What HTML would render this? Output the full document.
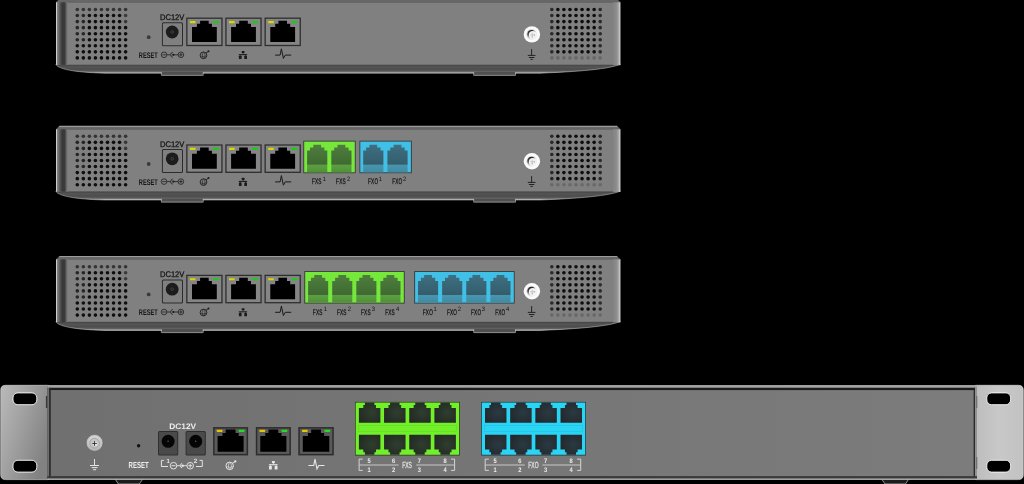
<!DOCTYPE html>
<html><head><meta charset="utf-8"><title>Gateways</title>
<style>html,body{margin:0;padding:0;background:#000;width:1024px;height:484px;overflow:hidden}
svg{display:block;will-change:transform} text{font-family:"Liberation Sans", sans-serif;text-rendering:geometricPrecision}</style></head>
<body><svg width="1024" height="484" viewBox="0 0 1024 484">
<defs><linearGradient id="lside" x1="0" x2="1" y1="0" y2="0">
<stop offset="0" stop-color="#e0e0e0"/><stop offset="0.06" stop-color="#c4c4c4"/>
<stop offset="0.12" stop-color="#808080"/><stop offset="0.25" stop-color="#686868"/>
<stop offset="0.42" stop-color="#464646"/><stop offset="0.55" stop-color="#383838"/>
<stop offset="0.72" stop-color="#3a3a3a"/><stop offset="0.85" stop-color="#606060"/>
<stop offset="0.95" stop-color="#7a7a7a"/><stop offset="1" stop-color="#808080"/></linearGradient><linearGradient id="rside" x1="0" x2="1" y1="0" y2="0">
<stop offset="0" stop-color="#838383"/><stop offset="0.45" stop-color="#8c8c8c"/>
<stop offset="0.75" stop-color="#a8a8a8"/><stop offset="0.92" stop-color="#d0d0d0"/>
<stop offset="1" stop-color="#9a9a9a"/></linearGradient><linearGradient id="bband" x1="0" x2="0" y1="0" y2="1">
<stop offset="0" stop-color="#444"/><stop offset="0.2" stop-color="#4c4c4c"/>
<stop offset="0.35" stop-color="#555"/><stop offset="0.55" stop-color="#4c4c4c"/>
<stop offset="0.78" stop-color="#5a5a5a"/><stop offset="0.9" stop-color="#8a8a8a"/>
<stop offset="1" stop-color="#c0c0c0"/></linearGradient><linearGradient id="rface" x1="0" x2="1" y1="0" y2="0">
<stop offset="0" stop-color="#707070"/><stop offset="1" stop-color="#7c7c7c"/></linearGradient><radialGradient id="rgj" cx="0.6" cy="0.5" r="0.7">
<stop offset="0" stop-color="#2e3e2e"/><stop offset="1" stop-color="#232823"/></radialGradient><radialGradient id="rbj" cx="0.6" cy="0.5" r="0.7">
<stop offset="0" stop-color="#2a3a42"/><stop offset="1" stop-color="#22272b"/></radialGradient><radialGradient id="sscrew" cx="0.7" cy="0.6" r="0.8">
<stop offset="0" stop-color="#fafafa"/><stop offset="0.5" stop-color="#eeeeee"/>
<stop offset="0.85" stop-color="#c8c8c8"/><stop offset="1" stop-color="#d8d8d8"/></radialGradient><radialGradient id="rscrew" cx="0.5" cy="0.35" r="0.65">
<stop offset="0" stop-color="#e0e0e0"/><stop offset="0.7" stop-color="#c4c4c4"/>
<stop offset="1" stop-color="#a4a4a4"/></radialGradient><linearGradient id="topb" x1="0" x2="0" y1="0" y2="1">
<stop offset="0" stop-color="#a0a0a0"/><stop offset="0.28" stop-color="#989898"/>
<stop offset="0.4" stop-color="#686868"/><stop offset="0.85" stop-color="#636363"/>
<stop offset="1" stop-color="#787878"/></linearGradient><linearGradient id="rtop" x1="0" x2="0" y1="0" y2="1">
<stop offset="0" stop-color="#c0c0c0"/><stop offset="0.4" stop-color="#a8a8a8"/>
<stop offset="1" stop-color="#8a8a8a"/></linearGradient><linearGradient id="cres" x1="0.2" x2="0.5" y1="0.1" y2="1">
<stop offset="0" stop-color="#202020"/><stop offset="0.45" stop-color="#555"/>
<stop offset="1" stop-color="#e0e0e0"/></linearGradient><linearGradient id="foot" x1="0" x2="0" y1="0" y2="1">
<stop offset="0" stop-color="#6a6a6a"/><stop offset="1" stop-color="#9a9a9a"/></linearGradient><radialGradient id="screw" cx="0.45" cy="0.45" r="0.6">
<stop offset="0" stop-color="#f0f0f0"/><stop offset="0.6" stop-color="#c8c8c8"/>
<stop offset="1" stop-color="#8a8a8a"/></radialGradient><linearGradient id="earL" x1="0" x2="1" y1="0" y2="0.6">
<stop offset="0" stop-color="#bababa"/><stop offset="0.45" stop-color="#a2a2a2"/>
<stop offset="1" stop-color="#828282"/></linearGradient><linearGradient id="earR" x1="0" x2="1" y1="0" y2="0">
<stop offset="0" stop-color="#bdbdbd"/><stop offset="0.5" stop-color="#c8c8c8"/>
<stop offset="1" stop-color="#c2c2c2"/></linearGradient><linearGradient id="gjack" x1="0" x2="0" y1="0" y2="1">
<stop offset="0" stop-color="#4e7e3e"/><stop offset="0.71" stop-color="#3f6a31"/>
<stop offset="0.73" stop-color="#5e9e43"/><stop offset="1" stop-color="#509038"/></linearGradient><linearGradient id="bjack" x1="0" x2="0" y1="0" y2="1">
<stop offset="0" stop-color="#3e6f80"/><stop offset="0.71" stop-color="#335d6d"/>
<stop offset="0.73" stop-color="#4a95ae"/><stop offset="1" stop-color="#408aa3"/></linearGradient></defs>
<rect width="1024" height="484" fill="#000"/>
<path d="M56,64.0 L620.5,64.0 L620.5,64.2 C612,68.0 590,71.2 540,73.2 L105,73.2 C72,72.4 59,68.7 56,64.8 Z" fill="url(#bband)" stroke="#d0d0d0" stroke-width="0.5"/><rect x="161.7" y="71.8" width="41.2" height="3.4" rx="1" fill="#505050"/><path d="M161.4,72.8 L161.4,75.4 L203.2,75.4 L203.2,72.8" fill="none" stroke="#d8d8d8" stroke-width="0.6"/><rect x="474.0" y="71.8" width="41.2" height="3.4" rx="1" fill="#505050"/><path d="M473.7,72.8 L473.7,75.4 L515.5,75.4 L515.5,72.8" fill="none" stroke="#d8d8d8" stroke-width="0.6"/><rect x="56.3" y="2.3" width="564" height="62.0" fill="#808080"/><path d="M56,2.3 L59.6,-1.2 L616.9,-1.2 L620.5,2.3 L620.5,2.8 L56,2.8 Z" fill="url(#topb)"/><rect x="56" y="2.3" width="12" height="62.6" fill="url(#lside)"/><rect x="613" y="2.3" width="7.5" height="62.9" fill="url(#rside)"/><circle cx="77.30" cy="9.50" r="1.8" fill="#333"/><circle cx="83.34" cy="9.50" r="1.8" fill="#333"/><circle cx="89.38" cy="9.50" r="1.8" fill="#333"/><circle cx="95.42" cy="9.50" r="1.8" fill="#333"/><circle cx="101.46" cy="9.50" r="1.8" fill="#333"/><circle cx="107.50" cy="9.50" r="1.8" fill="#333"/><circle cx="113.54" cy="9.50" r="1.8" fill="#333"/><circle cx="119.58" cy="9.50" r="1.8" fill="#333"/><circle cx="125.62" cy="9.50" r="1.8" fill="#333"/><circle cx="77.30" cy="15.55" r="1.8" fill="#262626"/><circle cx="83.34" cy="15.55" r="1.8" fill="#262626"/><circle cx="89.38" cy="15.55" r="1.8" fill="#0e0e0e"/><circle cx="95.42" cy="15.55" r="1.8" fill="#0e0e0e"/><circle cx="101.46" cy="15.55" r="1.8" fill="#0e0e0e"/><circle cx="107.50" cy="15.55" r="1.8" fill="#0e0e0e"/><circle cx="113.54" cy="15.55" r="1.8" fill="#0e0e0e"/><circle cx="119.58" cy="15.55" r="1.8" fill="#0e0e0e"/><circle cx="125.62" cy="15.55" r="1.8" fill="#3a3a3a"/><circle cx="77.30" cy="21.60" r="1.8" fill="#262626"/><circle cx="83.34" cy="21.60" r="1.8" fill="#262626"/><circle cx="89.38" cy="21.60" r="1.8" fill="#0e0e0e"/><circle cx="95.42" cy="21.60" r="1.8" fill="#0e0e0e"/><circle cx="101.46" cy="21.60" r="1.8" fill="#0e0e0e"/><circle cx="107.50" cy="21.60" r="1.8" fill="#0e0e0e"/><circle cx="113.54" cy="21.60" r="1.8" fill="#0e0e0e"/><circle cx="119.58" cy="21.60" r="1.8" fill="#0e0e0e"/><circle cx="125.62" cy="21.60" r="1.8" fill="#3a3a3a"/><circle cx="77.30" cy="27.65" r="1.8" fill="#262626"/><circle cx="83.34" cy="27.65" r="1.8" fill="#262626"/><circle cx="89.38" cy="27.65" r="1.8" fill="#0e0e0e"/><circle cx="95.42" cy="27.65" r="1.8" fill="#0e0e0e"/><circle cx="101.46" cy="27.65" r="1.8" fill="#0e0e0e"/><circle cx="107.50" cy="27.65" r="1.8" fill="#0e0e0e"/><circle cx="113.54" cy="27.65" r="1.8" fill="#0e0e0e"/><circle cx="119.58" cy="27.65" r="1.8" fill="#0e0e0e"/><circle cx="125.62" cy="27.65" r="1.8" fill="#0e0e0e"/><circle cx="77.30" cy="33.70" r="1.8" fill="#262626"/><circle cx="83.34" cy="33.70" r="1.8" fill="#262626"/><circle cx="89.38" cy="33.70" r="1.8" fill="#0e0e0e"/><circle cx="95.42" cy="33.70" r="1.8" fill="#0e0e0e"/><circle cx="101.46" cy="33.70" r="1.8" fill="#0e0e0e"/><circle cx="107.50" cy="33.70" r="1.8" fill="#0e0e0e"/><circle cx="113.54" cy="33.70" r="1.8" fill="#0e0e0e"/><circle cx="119.58" cy="33.70" r="1.8" fill="#0e0e0e"/><circle cx="125.62" cy="33.70" r="1.8" fill="#0e0e0e"/><circle cx="77.30" cy="39.75" r="1.8" fill="#262626"/><circle cx="83.34" cy="39.75" r="1.8" fill="#262626"/><circle cx="89.38" cy="39.75" r="1.8" fill="#0e0e0e"/><circle cx="95.42" cy="39.75" r="1.8" fill="#0e0e0e"/><circle cx="101.46" cy="39.75" r="1.8" fill="#0e0e0e"/><circle cx="107.50" cy="39.75" r="1.8" fill="#0e0e0e"/><circle cx="113.54" cy="39.75" r="1.8" fill="#0e0e0e"/><circle cx="119.58" cy="39.75" r="1.8" fill="#0e0e0e"/><circle cx="125.62" cy="39.75" r="1.8" fill="#0e0e0e"/><circle cx="77.30" cy="45.80" r="1.8" fill="#0e0e0e"/><circle cx="83.34" cy="45.80" r="1.8" fill="#0e0e0e"/><circle cx="89.38" cy="45.80" r="1.8" fill="#0e0e0e"/><circle cx="95.42" cy="45.80" r="1.8" fill="#0e0e0e"/><circle cx="101.46" cy="45.80" r="1.8" fill="#0e0e0e"/><circle cx="107.50" cy="45.80" r="1.8" fill="#0e0e0e"/><circle cx="113.54" cy="45.80" r="1.8" fill="#0e0e0e"/><circle cx="119.58" cy="45.80" r="1.8" fill="#0e0e0e"/><circle cx="125.62" cy="45.80" r="1.8" fill="#0e0e0e"/><circle cx="77.30" cy="51.85" r="1.8" fill="#0e0e0e"/><circle cx="83.34" cy="51.85" r="1.8" fill="#0e0e0e"/><circle cx="89.38" cy="51.85" r="1.8" fill="#0e0e0e"/><circle cx="95.42" cy="51.85" r="1.8" fill="#0e0e0e"/><circle cx="101.46" cy="51.85" r="1.8" fill="#0e0e0e"/><circle cx="107.50" cy="51.85" r="1.8" fill="#0e0e0e"/><circle cx="113.54" cy="51.85" r="1.8" fill="#0e0e0e"/><circle cx="119.58" cy="51.85" r="1.8" fill="#0e0e0e"/><circle cx="125.62" cy="51.85" r="1.8" fill="#0e0e0e"/><circle cx="77.30" cy="57.90" r="1.8" fill="#0e0e0e"/><circle cx="83.34" cy="57.90" r="1.8" fill="#0e0e0e"/><circle cx="89.38" cy="57.90" r="1.8" fill="#0e0e0e"/><circle cx="95.42" cy="57.90" r="1.8" fill="#0e0e0e"/><circle cx="101.46" cy="57.90" r="1.8" fill="#0e0e0e"/><circle cx="107.50" cy="57.90" r="1.8" fill="#0e0e0e"/><circle cx="113.54" cy="57.90" r="1.8" fill="#0e0e0e"/><circle cx="119.58" cy="57.90" r="1.8" fill="#0e0e0e"/><circle cx="125.62" cy="57.90" r="1.8" fill="#0e0e0e"/><circle cx="551.80" cy="9.50" r="1.8" fill="#2a2a2a"/><circle cx="557.85" cy="9.50" r="1.8" fill="#0e0e0e"/><circle cx="563.90" cy="9.50" r="1.8" fill="#0e0e0e"/><circle cx="569.95" cy="9.50" r="1.8" fill="#0e0e0e"/><circle cx="576.00" cy="9.50" r="1.8" fill="#0e0e0e"/><circle cx="582.05" cy="9.50" r="1.8" fill="#0e0e0e"/><circle cx="588.10" cy="9.50" r="1.8" fill="#0e0e0e"/><circle cx="594.15" cy="9.50" r="1.8" fill="#0e0e0e"/><circle cx="600.20" cy="9.50" r="1.8" fill="#2a2a2a"/><circle cx="551.80" cy="15.55" r="1.8" fill="#2a2a2a"/><circle cx="557.85" cy="15.55" r="1.8" fill="#0e0e0e"/><circle cx="563.90" cy="15.55" r="1.8" fill="#0e0e0e"/><circle cx="569.95" cy="15.55" r="1.8" fill="#0e0e0e"/><circle cx="576.00" cy="15.55" r="1.8" fill="#0e0e0e"/><circle cx="582.05" cy="15.55" r="1.8" fill="#0e0e0e"/><circle cx="588.10" cy="15.55" r="1.8" fill="#0e0e0e"/><circle cx="594.15" cy="15.55" r="1.8" fill="#0e0e0e"/><circle cx="600.20" cy="15.55" r="1.8" fill="#2a2a2a"/><circle cx="551.80" cy="21.60" r="1.8" fill="#2a2a2a"/><circle cx="557.85" cy="21.60" r="1.8" fill="#0e0e0e"/><circle cx="563.90" cy="21.60" r="1.8" fill="#0e0e0e"/><circle cx="569.95" cy="21.60" r="1.8" fill="#0e0e0e"/><circle cx="576.00" cy="21.60" r="1.8" fill="#0e0e0e"/><circle cx="582.05" cy="21.60" r="1.8" fill="#0e0e0e"/><circle cx="588.10" cy="21.60" r="1.8" fill="#0e0e0e"/><circle cx="594.15" cy="21.60" r="1.8" fill="#0e0e0e"/><circle cx="600.20" cy="21.60" r="1.8" fill="#2a2a2a"/><circle cx="551.80" cy="27.65" r="1.8" fill="#2a2a2a"/><circle cx="557.85" cy="27.65" r="1.8" fill="#0e0e0e"/><circle cx="563.90" cy="27.65" r="1.8" fill="#0e0e0e"/><circle cx="569.95" cy="27.65" r="1.8" fill="#0e0e0e"/><circle cx="576.00" cy="27.65" r="1.8" fill="#0e0e0e"/><circle cx="582.05" cy="27.65" r="1.8" fill="#0e0e0e"/><circle cx="588.10" cy="27.65" r="1.8" fill="#0e0e0e"/><circle cx="594.15" cy="27.65" r="1.8" fill="#0e0e0e"/><circle cx="600.20" cy="27.65" r="1.8" fill="#2a2a2a"/><circle cx="551.80" cy="33.70" r="1.8" fill="#2a2a2a"/><circle cx="557.85" cy="33.70" r="1.8" fill="#0e0e0e"/><circle cx="563.90" cy="33.70" r="1.8" fill="#0e0e0e"/><circle cx="569.95" cy="33.70" r="1.8" fill="#0e0e0e"/><circle cx="576.00" cy="33.70" r="1.8" fill="#0e0e0e"/><circle cx="582.05" cy="33.70" r="1.8" fill="#0e0e0e"/><circle cx="588.10" cy="33.70" r="1.8" fill="#0e0e0e"/><circle cx="594.15" cy="33.70" r="1.8" fill="#0e0e0e"/><circle cx="600.20" cy="33.70" r="1.8" fill="#2a2a2a"/><circle cx="551.80" cy="39.75" r="1.8" fill="#2a2a2a"/><circle cx="557.85" cy="39.75" r="1.8" fill="#0e0e0e"/><circle cx="563.90" cy="39.75" r="1.8" fill="#0e0e0e"/><circle cx="569.95" cy="39.75" r="1.8" fill="#0e0e0e"/><circle cx="576.00" cy="39.75" r="1.8" fill="#0e0e0e"/><circle cx="582.05" cy="39.75" r="1.8" fill="#0e0e0e"/><circle cx="588.10" cy="39.75" r="1.8" fill="#0e0e0e"/><circle cx="594.15" cy="39.75" r="1.8" fill="#0e0e0e"/><circle cx="600.20" cy="39.75" r="1.8" fill="#2a2a2a"/><circle cx="551.80" cy="45.80" r="1.8" fill="#2a2a2a"/><circle cx="557.85" cy="45.80" r="1.8" fill="#0e0e0e"/><circle cx="563.90" cy="45.80" r="1.8" fill="#0e0e0e"/><circle cx="569.95" cy="45.80" r="1.8" fill="#0e0e0e"/><circle cx="576.00" cy="45.80" r="1.8" fill="#0e0e0e"/><circle cx="582.05" cy="45.80" r="1.8" fill="#0e0e0e"/><circle cx="588.10" cy="45.80" r="1.8" fill="#0e0e0e"/><circle cx="594.15" cy="45.80" r="1.8" fill="#0e0e0e"/><circle cx="600.20" cy="45.80" r="1.8" fill="#2a2a2a"/><circle cx="551.80" cy="51.85" r="1.8" fill="#2a2a2a"/><circle cx="557.85" cy="51.85" r="1.8" fill="#0e0e0e"/><circle cx="563.90" cy="51.85" r="1.8" fill="#0e0e0e"/><circle cx="569.95" cy="51.85" r="1.8" fill="#0e0e0e"/><circle cx="576.00" cy="51.85" r="1.8" fill="#0e0e0e"/><circle cx="582.05" cy="51.85" r="1.8" fill="#0e0e0e"/><circle cx="588.10" cy="51.85" r="1.8" fill="#0e0e0e"/><circle cx="594.15" cy="51.85" r="1.8" fill="#0e0e0e"/><circle cx="600.20" cy="51.85" r="1.8" fill="#2a2a2a"/><circle cx="551.80" cy="57.90" r="1.8" fill="#686868"/><circle cx="557.85" cy="57.90" r="1.8" fill="#686868"/><circle cx="563.90" cy="57.90" r="1.8" fill="#686868"/><circle cx="569.95" cy="57.90" r="1.8" fill="#686868"/><circle cx="576.00" cy="57.90" r="1.8" fill="#686868"/><circle cx="582.05" cy="57.90" r="1.8" fill="#686868"/><circle cx="588.10" cy="57.90" r="1.8" fill="#686868"/><circle cx="594.15" cy="57.90" r="1.8" fill="#686868"/><circle cx="600.20" cy="57.90" r="1.8" fill="#686868"/><circle cx="531.9" cy="34.4" r="8.2" fill="#fbfbfb"/><circle cx="531.9" cy="34.4" r="5.4" fill="url(#sscrew)"/><circle cx="531.6" cy="34.2" r="4.3" fill="url(#cres)"/><circle cx="532.8" cy="35.1" r="4.0" fill="#f2f2f2"/><path d="M532.2,32.8 L532.2,37.0 M530.2,34.9 L534.4,34.9" stroke="#c4c4c4" stroke-width="0.9"/><circle cx="534.3" cy="34.9" r="0.5" fill="#777"/><circle cx="532.2" cy="36.9" r="0.5" fill="#888"/><g stroke="#1e1e1e" stroke-width="0.95" fill="none"><line x1="531.6" y1="49.1" x2="531.6" y2="55.4"/><line x1="527.8" y1="55.4" x2="535.5" y2="55.4"/><line x1="528.9" y1="57.5" x2="534.4" y2="57.5"/><line x1="530.5" y1="59.4" x2="532.8" y2="59.4"/></g><circle cx="148.7" cy="37.2" r="1.9" fill="#3a3a3a"/><text x="0" y="0" font-size="8.1" font-weight="bold" fill="#141414" transform="translate(138.8,57.7) scale(0.70,1)">RESET</text><rect x="161.9" y="22.3" width="21.1" height="24" rx="1.5" fill="#2c2c2c"/><rect x="162.9" y="23.3" width="19.1" height="22" rx="0.9" fill="#808080"/><circle cx="172.2" cy="32" r="6.4" fill="#1c1c1c"/><circle cx="172.2" cy="32" r="1.3" fill="none" stroke="#555" stroke-width="0.6"/><text x="0" y="0" font-size="8.1" fill="#141414" stroke="#141414" stroke-width="0.25" transform="translate(159.9,20.1) scale(0.94,1)">DC12V</text><g stroke="#1a1a1a" stroke-width="0.75" fill="none"><circle cx="164.05" cy="54.8" r="2.8"/><line x1="162.31" y1="54.8" x2="165.79" y2="54.8"/><line x1="166.85" y1="54.8" x2="170.64" y2="54.8"/><path d="M172.84,57.42 A2.66,2.66 0 0 1 172.84,52.18"/><line x1="173.3" y1="54.8" x2="178.1" y2="54.8"/><circle cx="180.9" cy="54.8" r="2.8"/><line x1="179.16" y1="54.8" x2="182.64" y2="54.8"/><line x1="180.9" y1="53.06" x2="180.9" y2="56.54"/></g><circle cx="173.3" cy="54.8" r="1.12" fill="#1a1a1a"/><rect x="186.2" y="17.55" width="36.4" height="28.6" fill="#2e2e2e"/><rect x="187.5" y="18.85" width="33.8" height="26.0" fill="#858585"/><polygon points="192.00,27.05 196.90,27.05 196.90,23.85 200.10,23.85 200.10,20.65 208.70,20.65 208.70,23.85 211.90,23.85 211.90,27.05 216.80,27.05 216.80,41.95 192.00,41.95" fill="#000"/><rect x="189.9" y="20.95" width="5.6" height="2.2" rx="0.4" fill="#d8d800"/><rect x="213.3" y="20.95" width="5.6" height="2.2" rx="0.4" fill="#10d010"/><rect x="225.3" y="17.55" width="36.4" height="28.6" fill="#2e2e2e"/><rect x="226.6" y="18.85" width="33.8" height="26.0" fill="#858585"/><polygon points="231.10,27.05 236.00,27.05 236.00,23.85 239.20,23.85 239.20,20.65 247.80,20.65 247.80,23.85 251.00,23.85 251.00,27.05 255.90,27.05 255.90,41.95 231.10,41.95" fill="#000"/><rect x="229.0" y="20.95" width="5.6" height="2.2" rx="0.4" fill="#d8d800"/><rect x="252.4" y="20.95" width="5.6" height="2.2" rx="0.4" fill="#10d010"/><rect x="264.5" y="17.55" width="36.4" height="28.6" fill="#2e2e2e"/><rect x="265.8" y="18.85" width="33.8" height="26.0" fill="#858585"/><polygon points="270.30,27.05 275.20,27.05 275.20,23.85 278.40,23.85 278.40,20.65 287.00,20.65 287.00,23.85 290.20,23.85 290.20,27.05 295.10,27.05 295.10,41.95 270.30,41.95" fill="#000"/><rect x="268.2" y="20.95" width="5.6" height="2.2" rx="0.4" fill="#d8d800"/><rect x="291.6" y="20.95" width="5.6" height="2.2" rx="0.4" fill="#10d010"/><g transform="translate(203.5,55.3) scale(1.0)"><g stroke="#1a1a1a" fill="none" stroke-width="0.85"><circle cx="0" cy="0" r="3.35"/><path d="M2.5,-2.3 L4.8,-3.8"/></g><g stroke="#1a1a1a" fill="none" stroke-width="0.55"><ellipse cx="0.2" cy="0.1" rx="1.3" ry="2.9"/><path d="M-2.9,0.6 Q0,2.2 2.9,0.6"/></g><circle cx="5.0" cy="-4.0" r="1" fill="#1a1a1a"/></g><g fill="#1a1a1a" transform="translate(243.1,54.5) scale(1.0)"><rect x="-1.4" y="-3.5" width="2.8" height="2.1" rx="0.5"/><rect x="-0.35" y="-1.6" width="0.7" height="1.4"/><rect x="-4.3" y="-0.4" width="8.3" height="1.05"/><rect x="-3.3" y="0.5" width="0.7" height="1.2"/><rect x="2.2" y="0.5" width="0.7" height="1.2"/><rect x="-4.2" y="1.3" width="2.7" height="3.3" rx="0.5"/><rect x="1.2" y="1.3" width="2.7" height="3.3" rx="0.5"/></g><polyline points="275.1,55.1 280.1,55.1 281.4,48.8 283.4,58.4 285.2,55.1 291.2,55.1" stroke="#1a1a1a" stroke-width="1.0" fill="none" stroke-linejoin="miter"/><path d="M56,190.8 L620.5,190.8 L620.5,191 C612,194.8 590,198 540,200 L105,200 C72,199.2 59,195.5 56,191.6 Z" fill="url(#bband)" stroke="#d0d0d0" stroke-width="0.5"/><rect x="161.7" y="198.6" width="41.2" height="3.4" rx="1" fill="#505050"/><path d="M161.4,199.6 L161.4,202.2 L203.2,202.2 L203.2,199.6" fill="none" stroke="#d8d8d8" stroke-width="0.6"/><rect x="474.0" y="198.6" width="41.2" height="3.4" rx="1" fill="#505050"/><path d="M473.7,199.6 L473.7,202.2 L515.5,202.2 L515.5,199.6" fill="none" stroke="#d8d8d8" stroke-width="0.6"/><rect x="56.3" y="129.3" width="564" height="61.8" fill="#808080"/><path d="M56,129.3 L59.6,125.8 L616.9,125.8 L620.5,129.3 L620.5,129.8 L56,129.8 Z" fill="url(#topb)"/><rect x="56" y="129.3" width="12" height="62.4" fill="url(#lside)"/><rect x="613" y="129.3" width="7.5" height="62.7" fill="url(#rside)"/><circle cx="77.30" cy="136.30" r="1.8" fill="#333"/><circle cx="83.34" cy="136.30" r="1.8" fill="#333"/><circle cx="89.38" cy="136.30" r="1.8" fill="#333"/><circle cx="95.42" cy="136.30" r="1.8" fill="#333"/><circle cx="101.46" cy="136.30" r="1.8" fill="#333"/><circle cx="107.50" cy="136.30" r="1.8" fill="#333"/><circle cx="113.54" cy="136.30" r="1.8" fill="#333"/><circle cx="119.58" cy="136.30" r="1.8" fill="#333"/><circle cx="125.62" cy="136.30" r="1.8" fill="#333"/><circle cx="77.30" cy="142.35" r="1.8" fill="#262626"/><circle cx="83.34" cy="142.35" r="1.8" fill="#262626"/><circle cx="89.38" cy="142.35" r="1.8" fill="#0e0e0e"/><circle cx="95.42" cy="142.35" r="1.8" fill="#0e0e0e"/><circle cx="101.46" cy="142.35" r="1.8" fill="#0e0e0e"/><circle cx="107.50" cy="142.35" r="1.8" fill="#0e0e0e"/><circle cx="113.54" cy="142.35" r="1.8" fill="#0e0e0e"/><circle cx="119.58" cy="142.35" r="1.8" fill="#0e0e0e"/><circle cx="125.62" cy="142.35" r="1.8" fill="#3a3a3a"/><circle cx="77.30" cy="148.40" r="1.8" fill="#262626"/><circle cx="83.34" cy="148.40" r="1.8" fill="#262626"/><circle cx="89.38" cy="148.40" r="1.8" fill="#0e0e0e"/><circle cx="95.42" cy="148.40" r="1.8" fill="#0e0e0e"/><circle cx="101.46" cy="148.40" r="1.8" fill="#0e0e0e"/><circle cx="107.50" cy="148.40" r="1.8" fill="#0e0e0e"/><circle cx="113.54" cy="148.40" r="1.8" fill="#0e0e0e"/><circle cx="119.58" cy="148.40" r="1.8" fill="#0e0e0e"/><circle cx="125.62" cy="148.40" r="1.8" fill="#3a3a3a"/><circle cx="77.30" cy="154.45" r="1.8" fill="#262626"/><circle cx="83.34" cy="154.45" r="1.8" fill="#262626"/><circle cx="89.38" cy="154.45" r="1.8" fill="#0e0e0e"/><circle cx="95.42" cy="154.45" r="1.8" fill="#0e0e0e"/><circle cx="101.46" cy="154.45" r="1.8" fill="#0e0e0e"/><circle cx="107.50" cy="154.45" r="1.8" fill="#0e0e0e"/><circle cx="113.54" cy="154.45" r="1.8" fill="#0e0e0e"/><circle cx="119.58" cy="154.45" r="1.8" fill="#0e0e0e"/><circle cx="125.62" cy="154.45" r="1.8" fill="#0e0e0e"/><circle cx="77.30" cy="160.50" r="1.8" fill="#262626"/><circle cx="83.34" cy="160.50" r="1.8" fill="#262626"/><circle cx="89.38" cy="160.50" r="1.8" fill="#0e0e0e"/><circle cx="95.42" cy="160.50" r="1.8" fill="#0e0e0e"/><circle cx="101.46" cy="160.50" r="1.8" fill="#0e0e0e"/><circle cx="107.50" cy="160.50" r="1.8" fill="#0e0e0e"/><circle cx="113.54" cy="160.50" r="1.8" fill="#0e0e0e"/><circle cx="119.58" cy="160.50" r="1.8" fill="#0e0e0e"/><circle cx="125.62" cy="160.50" r="1.8" fill="#0e0e0e"/><circle cx="77.30" cy="166.55" r="1.8" fill="#262626"/><circle cx="83.34" cy="166.55" r="1.8" fill="#262626"/><circle cx="89.38" cy="166.55" r="1.8" fill="#0e0e0e"/><circle cx="95.42" cy="166.55" r="1.8" fill="#0e0e0e"/><circle cx="101.46" cy="166.55" r="1.8" fill="#0e0e0e"/><circle cx="107.50" cy="166.55" r="1.8" fill="#0e0e0e"/><circle cx="113.54" cy="166.55" r="1.8" fill="#0e0e0e"/><circle cx="119.58" cy="166.55" r="1.8" fill="#0e0e0e"/><circle cx="125.62" cy="166.55" r="1.8" fill="#0e0e0e"/><circle cx="77.30" cy="172.60" r="1.8" fill="#0e0e0e"/><circle cx="83.34" cy="172.60" r="1.8" fill="#0e0e0e"/><circle cx="89.38" cy="172.60" r="1.8" fill="#0e0e0e"/><circle cx="95.42" cy="172.60" r="1.8" fill="#0e0e0e"/><circle cx="101.46" cy="172.60" r="1.8" fill="#0e0e0e"/><circle cx="107.50" cy="172.60" r="1.8" fill="#0e0e0e"/><circle cx="113.54" cy="172.60" r="1.8" fill="#0e0e0e"/><circle cx="119.58" cy="172.60" r="1.8" fill="#0e0e0e"/><circle cx="125.62" cy="172.60" r="1.8" fill="#0e0e0e"/><circle cx="77.30" cy="178.65" r="1.8" fill="#0e0e0e"/><circle cx="83.34" cy="178.65" r="1.8" fill="#0e0e0e"/><circle cx="89.38" cy="178.65" r="1.8" fill="#0e0e0e"/><circle cx="95.42" cy="178.65" r="1.8" fill="#0e0e0e"/><circle cx="101.46" cy="178.65" r="1.8" fill="#0e0e0e"/><circle cx="107.50" cy="178.65" r="1.8" fill="#0e0e0e"/><circle cx="113.54" cy="178.65" r="1.8" fill="#0e0e0e"/><circle cx="119.58" cy="178.65" r="1.8" fill="#0e0e0e"/><circle cx="125.62" cy="178.65" r="1.8" fill="#0e0e0e"/><circle cx="77.30" cy="184.70" r="1.8" fill="#0e0e0e"/><circle cx="83.34" cy="184.70" r="1.8" fill="#0e0e0e"/><circle cx="89.38" cy="184.70" r="1.8" fill="#0e0e0e"/><circle cx="95.42" cy="184.70" r="1.8" fill="#0e0e0e"/><circle cx="101.46" cy="184.70" r="1.8" fill="#0e0e0e"/><circle cx="107.50" cy="184.70" r="1.8" fill="#0e0e0e"/><circle cx="113.54" cy="184.70" r="1.8" fill="#0e0e0e"/><circle cx="119.58" cy="184.70" r="1.8" fill="#0e0e0e"/><circle cx="125.62" cy="184.70" r="1.8" fill="#0e0e0e"/><circle cx="551.80" cy="136.30" r="1.8" fill="#2a2a2a"/><circle cx="557.85" cy="136.30" r="1.8" fill="#0e0e0e"/><circle cx="563.90" cy="136.30" r="1.8" fill="#0e0e0e"/><circle cx="569.95" cy="136.30" r="1.8" fill="#0e0e0e"/><circle cx="576.00" cy="136.30" r="1.8" fill="#0e0e0e"/><circle cx="582.05" cy="136.30" r="1.8" fill="#0e0e0e"/><circle cx="588.10" cy="136.30" r="1.8" fill="#0e0e0e"/><circle cx="594.15" cy="136.30" r="1.8" fill="#0e0e0e"/><circle cx="600.20" cy="136.30" r="1.8" fill="#2a2a2a"/><circle cx="551.80" cy="142.35" r="1.8" fill="#2a2a2a"/><circle cx="557.85" cy="142.35" r="1.8" fill="#0e0e0e"/><circle cx="563.90" cy="142.35" r="1.8" fill="#0e0e0e"/><circle cx="569.95" cy="142.35" r="1.8" fill="#0e0e0e"/><circle cx="576.00" cy="142.35" r="1.8" fill="#0e0e0e"/><circle cx="582.05" cy="142.35" r="1.8" fill="#0e0e0e"/><circle cx="588.10" cy="142.35" r="1.8" fill="#0e0e0e"/><circle cx="594.15" cy="142.35" r="1.8" fill="#0e0e0e"/><circle cx="600.20" cy="142.35" r="1.8" fill="#2a2a2a"/><circle cx="551.80" cy="148.40" r="1.8" fill="#2a2a2a"/><circle cx="557.85" cy="148.40" r="1.8" fill="#0e0e0e"/><circle cx="563.90" cy="148.40" r="1.8" fill="#0e0e0e"/><circle cx="569.95" cy="148.40" r="1.8" fill="#0e0e0e"/><circle cx="576.00" cy="148.40" r="1.8" fill="#0e0e0e"/><circle cx="582.05" cy="148.40" r="1.8" fill="#0e0e0e"/><circle cx="588.10" cy="148.40" r="1.8" fill="#0e0e0e"/><circle cx="594.15" cy="148.40" r="1.8" fill="#0e0e0e"/><circle cx="600.20" cy="148.40" r="1.8" fill="#2a2a2a"/><circle cx="551.80" cy="154.45" r="1.8" fill="#2a2a2a"/><circle cx="557.85" cy="154.45" r="1.8" fill="#0e0e0e"/><circle cx="563.90" cy="154.45" r="1.8" fill="#0e0e0e"/><circle cx="569.95" cy="154.45" r="1.8" fill="#0e0e0e"/><circle cx="576.00" cy="154.45" r="1.8" fill="#0e0e0e"/><circle cx="582.05" cy="154.45" r="1.8" fill="#0e0e0e"/><circle cx="588.10" cy="154.45" r="1.8" fill="#0e0e0e"/><circle cx="594.15" cy="154.45" r="1.8" fill="#0e0e0e"/><circle cx="600.20" cy="154.45" r="1.8" fill="#2a2a2a"/><circle cx="551.80" cy="160.50" r="1.8" fill="#2a2a2a"/><circle cx="557.85" cy="160.50" r="1.8" fill="#0e0e0e"/><circle cx="563.90" cy="160.50" r="1.8" fill="#0e0e0e"/><circle cx="569.95" cy="160.50" r="1.8" fill="#0e0e0e"/><circle cx="576.00" cy="160.50" r="1.8" fill="#0e0e0e"/><circle cx="582.05" cy="160.50" r="1.8" fill="#0e0e0e"/><circle cx="588.10" cy="160.50" r="1.8" fill="#0e0e0e"/><circle cx="594.15" cy="160.50" r="1.8" fill="#0e0e0e"/><circle cx="600.20" cy="160.50" r="1.8" fill="#2a2a2a"/><circle cx="551.80" cy="166.55" r="1.8" fill="#2a2a2a"/><circle cx="557.85" cy="166.55" r="1.8" fill="#0e0e0e"/><circle cx="563.90" cy="166.55" r="1.8" fill="#0e0e0e"/><circle cx="569.95" cy="166.55" r="1.8" fill="#0e0e0e"/><circle cx="576.00" cy="166.55" r="1.8" fill="#0e0e0e"/><circle cx="582.05" cy="166.55" r="1.8" fill="#0e0e0e"/><circle cx="588.10" cy="166.55" r="1.8" fill="#0e0e0e"/><circle cx="594.15" cy="166.55" r="1.8" fill="#0e0e0e"/><circle cx="600.20" cy="166.55" r="1.8" fill="#2a2a2a"/><circle cx="551.80" cy="172.60" r="1.8" fill="#2a2a2a"/><circle cx="557.85" cy="172.60" r="1.8" fill="#0e0e0e"/><circle cx="563.90" cy="172.60" r="1.8" fill="#0e0e0e"/><circle cx="569.95" cy="172.60" r="1.8" fill="#0e0e0e"/><circle cx="576.00" cy="172.60" r="1.8" fill="#0e0e0e"/><circle cx="582.05" cy="172.60" r="1.8" fill="#0e0e0e"/><circle cx="588.10" cy="172.60" r="1.8" fill="#0e0e0e"/><circle cx="594.15" cy="172.60" r="1.8" fill="#0e0e0e"/><circle cx="600.20" cy="172.60" r="1.8" fill="#2a2a2a"/><circle cx="551.80" cy="178.65" r="1.8" fill="#2a2a2a"/><circle cx="557.85" cy="178.65" r="1.8" fill="#0e0e0e"/><circle cx="563.90" cy="178.65" r="1.8" fill="#0e0e0e"/><circle cx="569.95" cy="178.65" r="1.8" fill="#0e0e0e"/><circle cx="576.00" cy="178.65" r="1.8" fill="#0e0e0e"/><circle cx="582.05" cy="178.65" r="1.8" fill="#0e0e0e"/><circle cx="588.10" cy="178.65" r="1.8" fill="#0e0e0e"/><circle cx="594.15" cy="178.65" r="1.8" fill="#0e0e0e"/><circle cx="600.20" cy="178.65" r="1.8" fill="#2a2a2a"/><circle cx="551.80" cy="184.70" r="1.8" fill="#686868"/><circle cx="557.85" cy="184.70" r="1.8" fill="#686868"/><circle cx="563.90" cy="184.70" r="1.8" fill="#686868"/><circle cx="569.95" cy="184.70" r="1.8" fill="#686868"/><circle cx="576.00" cy="184.70" r="1.8" fill="#686868"/><circle cx="582.05" cy="184.70" r="1.8" fill="#686868"/><circle cx="588.10" cy="184.70" r="1.8" fill="#686868"/><circle cx="594.15" cy="184.70" r="1.8" fill="#686868"/><circle cx="600.20" cy="184.70" r="1.8" fill="#686868"/><circle cx="531.9" cy="161.3" r="8.2" fill="#fbfbfb"/><circle cx="531.9" cy="161.3" r="5.4" fill="url(#sscrew)"/><circle cx="531.6" cy="161.1" r="4.3" fill="url(#cres)"/><circle cx="532.8" cy="162.0" r="4.0" fill="#f2f2f2"/><path d="M532.2,159.7 L532.2,163.9 M530.2,161.8 L534.4,161.8" stroke="#c4c4c4" stroke-width="0.9"/><circle cx="534.3" cy="161.8" r="0.5" fill="#777"/><circle cx="532.2" cy="163.8" r="0.5" fill="#888"/><g stroke="#1e1e1e" stroke-width="0.95" fill="none"><line x1="531.6" y1="176.1" x2="531.6" y2="182.4"/><line x1="527.8" y1="182.4" x2="535.5" y2="182.4"/><line x1="528.9" y1="184.5" x2="534.4" y2="184.5"/><line x1="530.5" y1="186.4" x2="532.8" y2="186.4"/></g><circle cx="148.7" cy="164" r="1.9" fill="#3a3a3a"/><text x="0" y="0" font-size="8.1" font-weight="bold" fill="#141414" transform="translate(138.8,184.5) scale(0.70,1)">RESET</text><rect x="161.9" y="149.1" width="21.1" height="24" rx="1.5" fill="#2c2c2c"/><rect x="162.9" y="150.1" width="19.1" height="22" rx="0.9" fill="#808080"/><circle cx="172.2" cy="158.8" r="6.4" fill="#1c1c1c"/><circle cx="172.2" cy="158.8" r="1.3" fill="none" stroke="#555" stroke-width="0.6"/><text x="0" y="0" font-size="8.1" fill="#141414" stroke="#141414" stroke-width="0.25" transform="translate(159.9,146.9) scale(0.94,1)">DC12V</text><g stroke="#1a1a1a" stroke-width="0.75" fill="none"><circle cx="164.05" cy="181.6" r="2.8"/><line x1="162.31" y1="181.6" x2="165.79" y2="181.6"/><line x1="166.85" y1="181.6" x2="170.64" y2="181.6"/><path d="M172.84,184.22 A2.66,2.66 0 0 1 172.84,178.98"/><line x1="173.3" y1="181.6" x2="178.1" y2="181.6"/><circle cx="180.9" cy="181.6" r="2.8"/><line x1="179.16" y1="181.6" x2="182.64" y2="181.6"/><line x1="180.9" y1="179.86" x2="180.9" y2="183.34"/></g><circle cx="173.3" cy="181.6" r="1.12" fill="#1a1a1a"/><rect x="186.2" y="144.35" width="36.4" height="28.6" fill="#2e2e2e"/><rect x="187.5" y="145.65" width="33.8" height="26.0" fill="#858585"/><polygon points="192.00,153.85 196.90,153.85 196.90,150.65 200.10,150.65 200.10,147.45 208.70,147.45 208.70,150.65 211.90,150.65 211.90,153.85 216.80,153.85 216.80,168.75 192.00,168.75" fill="#000"/><rect x="189.9" y="147.75" width="5.6" height="2.2" rx="0.4" fill="#d8d800"/><rect x="213.3" y="147.75" width="5.6" height="2.2" rx="0.4" fill="#10d010"/><rect x="225.3" y="144.35" width="36.4" height="28.6" fill="#2e2e2e"/><rect x="226.6" y="145.65" width="33.8" height="26.0" fill="#858585"/><polygon points="231.10,153.85 236.00,153.85 236.00,150.65 239.20,150.65 239.20,147.45 247.80,147.45 247.80,150.65 251.00,150.65 251.00,153.85 255.90,153.85 255.90,168.75 231.10,168.75" fill="#000"/><rect x="229.0" y="147.75" width="5.6" height="2.2" rx="0.4" fill="#d8d800"/><rect x="252.4" y="147.75" width="5.6" height="2.2" rx="0.4" fill="#10d010"/><rect x="264.5" y="144.35" width="36.4" height="28.6" fill="#2e2e2e"/><rect x="265.8" y="145.65" width="33.8" height="26.0" fill="#858585"/><polygon points="270.30,153.85 275.20,153.85 275.20,150.65 278.40,150.65 278.40,147.45 287.00,147.45 287.00,150.65 290.20,150.65 290.20,153.85 295.10,153.85 295.10,168.75 270.30,168.75" fill="#000"/><rect x="268.2" y="147.75" width="5.6" height="2.2" rx="0.4" fill="#d8d800"/><rect x="291.6" y="147.75" width="5.6" height="2.2" rx="0.4" fill="#10d010"/><g transform="translate(203.5,182.1) scale(1.0)"><g stroke="#1a1a1a" fill="none" stroke-width="0.85"><circle cx="0" cy="0" r="3.35"/><path d="M2.5,-2.3 L4.8,-3.8"/></g><g stroke="#1a1a1a" fill="none" stroke-width="0.55"><ellipse cx="0.2" cy="0.1" rx="1.3" ry="2.9"/><path d="M-2.9,0.6 Q0,2.2 2.9,0.6"/></g><circle cx="5.0" cy="-4.0" r="1" fill="#1a1a1a"/></g><g fill="#1a1a1a" transform="translate(243.1,181.3) scale(1.0)"><rect x="-1.4" y="-3.5" width="2.8" height="2.1" rx="0.5"/><rect x="-0.35" y="-1.6" width="0.7" height="1.4"/><rect x="-4.3" y="-0.4" width="8.3" height="1.05"/><rect x="-3.3" y="0.5" width="0.7" height="1.2"/><rect x="2.2" y="0.5" width="0.7" height="1.2"/><rect x="-4.2" y="1.3" width="2.7" height="3.3" rx="0.5"/><rect x="1.2" y="1.3" width="2.7" height="3.3" rx="0.5"/></g><polyline points="275.1,181.9 280.1,181.9 281.4,175.6 283.4,185.2 285.2,181.9 291.2,181.9" stroke="#1a1a1a" stroke-width="1.0" fill="none" stroke-linejoin="miter"/><rect x="303.3" y="140.7" width="52.4" height="32.5" fill="#3a3a3a"/><rect x="304.2" y="141.6" width="50.6" height="30.7" fill="#76e83c"/><polygon points="307.10,150.60 310.00,150.60 310.00,147.50 313.30,147.50 313.30,144.70 321.10,144.70 321.10,147.50 324.40,147.50 324.40,150.60 327.30,150.60 327.30,172.30 307.10,172.30" fill="url(#gjack)"/><text x="0" y="0" font-size="8.1" fill="#121212" stroke="#121212" stroke-width="0.25" letter-spacing="0.35" transform="translate(311.90,184.4) scale(0.58,1)">FXS</text><text x="0" y="0" font-size="6.3" fill="#121212" transform="translate(322.70,180.9) scale(0.92,1)">1</text><polygon points="331.30,150.60 334.20,150.60 334.20,147.50 337.50,147.50 337.50,144.70 345.30,144.70 345.30,147.50 348.60,147.50 348.60,150.60 351.50,150.60 351.50,172.30 331.30,172.30" fill="url(#gjack)"/><text x="0" y="0" font-size="8.1" fill="#121212" stroke="#121212" stroke-width="0.25" letter-spacing="0.35" transform="translate(336.10,184.4) scale(0.58,1)">FXS</text><text x="0" y="0" font-size="6.3" fill="#121212" transform="translate(346.90,180.9) scale(0.92,1)">2</text><rect x="359.4" y="140.7" width="52.4" height="32.5" fill="#3a3a3a"/><rect x="360.3" y="141.6" width="50.6" height="30.7" fill="#40c0e6"/><polygon points="363.20,150.60 366.10,150.60 366.10,147.50 369.40,147.50 369.40,144.70 377.20,144.70 377.20,147.50 380.50,147.50 380.50,150.60 383.40,150.60 383.40,172.30 363.20,172.30" fill="url(#bjack)"/><text x="0" y="0" font-size="8.1" fill="#121212" stroke="#121212" stroke-width="0.25" letter-spacing="0.35" transform="translate(368.00,184.4) scale(0.58,1)">FXO</text><text x="0" y="0" font-size="6.3" fill="#121212" transform="translate(378.80,180.9) scale(0.92,1)">1</text><polygon points="387.40,150.60 390.30,150.60 390.30,147.50 393.60,147.50 393.60,144.70 401.40,144.70 401.40,147.50 404.70,147.50 404.70,150.60 407.60,150.60 407.60,172.30 387.40,172.30" fill="url(#bjack)"/><text x="0" y="0" font-size="8.1" fill="#121212" stroke="#121212" stroke-width="0.25" letter-spacing="0.35" transform="translate(392.20,184.4) scale(0.58,1)">FXO</text><text x="0" y="0" font-size="6.3" fill="#121212" transform="translate(403.00,180.9) scale(0.92,1)">2</text><path d="M56,321.2 L620.5,321.2 L620.5,321.4 C612,325.2 590,328.4 540,330.4 L105,330.4 C72,329.6 59,325.9 56,322.0 Z" fill="url(#bband)" stroke="#d0d0d0" stroke-width="0.5"/><rect x="161.7" y="329.0" width="41.2" height="3.4" rx="1" fill="#505050"/><path d="M161.4,330.0 L161.4,332.6 L203.2,332.6 L203.2,330.0" fill="none" stroke="#d8d8d8" stroke-width="0.6"/><rect x="474.0" y="329.0" width="41.2" height="3.4" rx="1" fill="#505050"/><path d="M473.7,330.0 L473.7,332.6 L515.5,332.6 L515.5,330.0" fill="none" stroke="#d8d8d8" stroke-width="0.6"/><rect x="56.3" y="259.4" width="564" height="62.1" fill="#808080"/><path d="M56,259.4 L59.6,255.9 L616.9,255.9 L620.5,259.4 L620.5,259.9 L56,259.9 Z" fill="url(#topb)"/><rect x="56" y="259.4" width="12" height="62.7" fill="url(#lside)"/><rect x="613" y="259.4" width="7.5" height="63" fill="url(#rside)"/><circle cx="77.30" cy="266.70" r="1.8" fill="#333"/><circle cx="83.34" cy="266.70" r="1.8" fill="#333"/><circle cx="89.38" cy="266.70" r="1.8" fill="#333"/><circle cx="95.42" cy="266.70" r="1.8" fill="#333"/><circle cx="101.46" cy="266.70" r="1.8" fill="#333"/><circle cx="107.50" cy="266.70" r="1.8" fill="#333"/><circle cx="113.54" cy="266.70" r="1.8" fill="#333"/><circle cx="119.58" cy="266.70" r="1.8" fill="#333"/><circle cx="125.62" cy="266.70" r="1.8" fill="#333"/><circle cx="77.30" cy="272.75" r="1.8" fill="#262626"/><circle cx="83.34" cy="272.75" r="1.8" fill="#262626"/><circle cx="89.38" cy="272.75" r="1.8" fill="#0e0e0e"/><circle cx="95.42" cy="272.75" r="1.8" fill="#0e0e0e"/><circle cx="101.46" cy="272.75" r="1.8" fill="#0e0e0e"/><circle cx="107.50" cy="272.75" r="1.8" fill="#0e0e0e"/><circle cx="113.54" cy="272.75" r="1.8" fill="#0e0e0e"/><circle cx="119.58" cy="272.75" r="1.8" fill="#0e0e0e"/><circle cx="125.62" cy="272.75" r="1.8" fill="#3a3a3a"/><circle cx="77.30" cy="278.80" r="1.8" fill="#262626"/><circle cx="83.34" cy="278.80" r="1.8" fill="#262626"/><circle cx="89.38" cy="278.80" r="1.8" fill="#0e0e0e"/><circle cx="95.42" cy="278.80" r="1.8" fill="#0e0e0e"/><circle cx="101.46" cy="278.80" r="1.8" fill="#0e0e0e"/><circle cx="107.50" cy="278.80" r="1.8" fill="#0e0e0e"/><circle cx="113.54" cy="278.80" r="1.8" fill="#0e0e0e"/><circle cx="119.58" cy="278.80" r="1.8" fill="#0e0e0e"/><circle cx="125.62" cy="278.80" r="1.8" fill="#3a3a3a"/><circle cx="77.30" cy="284.85" r="1.8" fill="#262626"/><circle cx="83.34" cy="284.85" r="1.8" fill="#262626"/><circle cx="89.38" cy="284.85" r="1.8" fill="#0e0e0e"/><circle cx="95.42" cy="284.85" r="1.8" fill="#0e0e0e"/><circle cx="101.46" cy="284.85" r="1.8" fill="#0e0e0e"/><circle cx="107.50" cy="284.85" r="1.8" fill="#0e0e0e"/><circle cx="113.54" cy="284.85" r="1.8" fill="#0e0e0e"/><circle cx="119.58" cy="284.85" r="1.8" fill="#0e0e0e"/><circle cx="125.62" cy="284.85" r="1.8" fill="#0e0e0e"/><circle cx="77.30" cy="290.90" r="1.8" fill="#262626"/><circle cx="83.34" cy="290.90" r="1.8" fill="#262626"/><circle cx="89.38" cy="290.90" r="1.8" fill="#0e0e0e"/><circle cx="95.42" cy="290.90" r="1.8" fill="#0e0e0e"/><circle cx="101.46" cy="290.90" r="1.8" fill="#0e0e0e"/><circle cx="107.50" cy="290.90" r="1.8" fill="#0e0e0e"/><circle cx="113.54" cy="290.90" r="1.8" fill="#0e0e0e"/><circle cx="119.58" cy="290.90" r="1.8" fill="#0e0e0e"/><circle cx="125.62" cy="290.90" r="1.8" fill="#0e0e0e"/><circle cx="77.30" cy="296.95" r="1.8" fill="#262626"/><circle cx="83.34" cy="296.95" r="1.8" fill="#262626"/><circle cx="89.38" cy="296.95" r="1.8" fill="#0e0e0e"/><circle cx="95.42" cy="296.95" r="1.8" fill="#0e0e0e"/><circle cx="101.46" cy="296.95" r="1.8" fill="#0e0e0e"/><circle cx="107.50" cy="296.95" r="1.8" fill="#0e0e0e"/><circle cx="113.54" cy="296.95" r="1.8" fill="#0e0e0e"/><circle cx="119.58" cy="296.95" r="1.8" fill="#0e0e0e"/><circle cx="125.62" cy="296.95" r="1.8" fill="#0e0e0e"/><circle cx="77.30" cy="303.00" r="1.8" fill="#0e0e0e"/><circle cx="83.34" cy="303.00" r="1.8" fill="#0e0e0e"/><circle cx="89.38" cy="303.00" r="1.8" fill="#0e0e0e"/><circle cx="95.42" cy="303.00" r="1.8" fill="#0e0e0e"/><circle cx="101.46" cy="303.00" r="1.8" fill="#0e0e0e"/><circle cx="107.50" cy="303.00" r="1.8" fill="#0e0e0e"/><circle cx="113.54" cy="303.00" r="1.8" fill="#0e0e0e"/><circle cx="119.58" cy="303.00" r="1.8" fill="#0e0e0e"/><circle cx="125.62" cy="303.00" r="1.8" fill="#0e0e0e"/><circle cx="77.30" cy="309.05" r="1.8" fill="#0e0e0e"/><circle cx="83.34" cy="309.05" r="1.8" fill="#0e0e0e"/><circle cx="89.38" cy="309.05" r="1.8" fill="#0e0e0e"/><circle cx="95.42" cy="309.05" r="1.8" fill="#0e0e0e"/><circle cx="101.46" cy="309.05" r="1.8" fill="#0e0e0e"/><circle cx="107.50" cy="309.05" r="1.8" fill="#0e0e0e"/><circle cx="113.54" cy="309.05" r="1.8" fill="#0e0e0e"/><circle cx="119.58" cy="309.05" r="1.8" fill="#0e0e0e"/><circle cx="125.62" cy="309.05" r="1.8" fill="#0e0e0e"/><circle cx="77.30" cy="315.10" r="1.8" fill="#0e0e0e"/><circle cx="83.34" cy="315.10" r="1.8" fill="#0e0e0e"/><circle cx="89.38" cy="315.10" r="1.8" fill="#0e0e0e"/><circle cx="95.42" cy="315.10" r="1.8" fill="#0e0e0e"/><circle cx="101.46" cy="315.10" r="1.8" fill="#0e0e0e"/><circle cx="107.50" cy="315.10" r="1.8" fill="#0e0e0e"/><circle cx="113.54" cy="315.10" r="1.8" fill="#0e0e0e"/><circle cx="119.58" cy="315.10" r="1.8" fill="#0e0e0e"/><circle cx="125.62" cy="315.10" r="1.8" fill="#0e0e0e"/><circle cx="551.80" cy="266.70" r="1.8" fill="#2a2a2a"/><circle cx="557.85" cy="266.70" r="1.8" fill="#0e0e0e"/><circle cx="563.90" cy="266.70" r="1.8" fill="#0e0e0e"/><circle cx="569.95" cy="266.70" r="1.8" fill="#0e0e0e"/><circle cx="576.00" cy="266.70" r="1.8" fill="#0e0e0e"/><circle cx="582.05" cy="266.70" r="1.8" fill="#0e0e0e"/><circle cx="588.10" cy="266.70" r="1.8" fill="#0e0e0e"/><circle cx="594.15" cy="266.70" r="1.8" fill="#0e0e0e"/><circle cx="600.20" cy="266.70" r="1.8" fill="#2a2a2a"/><circle cx="551.80" cy="272.75" r="1.8" fill="#2a2a2a"/><circle cx="557.85" cy="272.75" r="1.8" fill="#0e0e0e"/><circle cx="563.90" cy="272.75" r="1.8" fill="#0e0e0e"/><circle cx="569.95" cy="272.75" r="1.8" fill="#0e0e0e"/><circle cx="576.00" cy="272.75" r="1.8" fill="#0e0e0e"/><circle cx="582.05" cy="272.75" r="1.8" fill="#0e0e0e"/><circle cx="588.10" cy="272.75" r="1.8" fill="#0e0e0e"/><circle cx="594.15" cy="272.75" r="1.8" fill="#0e0e0e"/><circle cx="600.20" cy="272.75" r="1.8" fill="#2a2a2a"/><circle cx="551.80" cy="278.80" r="1.8" fill="#2a2a2a"/><circle cx="557.85" cy="278.80" r="1.8" fill="#0e0e0e"/><circle cx="563.90" cy="278.80" r="1.8" fill="#0e0e0e"/><circle cx="569.95" cy="278.80" r="1.8" fill="#0e0e0e"/><circle cx="576.00" cy="278.80" r="1.8" fill="#0e0e0e"/><circle cx="582.05" cy="278.80" r="1.8" fill="#0e0e0e"/><circle cx="588.10" cy="278.80" r="1.8" fill="#0e0e0e"/><circle cx="594.15" cy="278.80" r="1.8" fill="#0e0e0e"/><circle cx="600.20" cy="278.80" r="1.8" fill="#2a2a2a"/><circle cx="551.80" cy="284.85" r="1.8" fill="#2a2a2a"/><circle cx="557.85" cy="284.85" r="1.8" fill="#0e0e0e"/><circle cx="563.90" cy="284.85" r="1.8" fill="#0e0e0e"/><circle cx="569.95" cy="284.85" r="1.8" fill="#0e0e0e"/><circle cx="576.00" cy="284.85" r="1.8" fill="#0e0e0e"/><circle cx="582.05" cy="284.85" r="1.8" fill="#0e0e0e"/><circle cx="588.10" cy="284.85" r="1.8" fill="#0e0e0e"/><circle cx="594.15" cy="284.85" r="1.8" fill="#0e0e0e"/><circle cx="600.20" cy="284.85" r="1.8" fill="#2a2a2a"/><circle cx="551.80" cy="290.90" r="1.8" fill="#2a2a2a"/><circle cx="557.85" cy="290.90" r="1.8" fill="#0e0e0e"/><circle cx="563.90" cy="290.90" r="1.8" fill="#0e0e0e"/><circle cx="569.95" cy="290.90" r="1.8" fill="#0e0e0e"/><circle cx="576.00" cy="290.90" r="1.8" fill="#0e0e0e"/><circle cx="582.05" cy="290.90" r="1.8" fill="#0e0e0e"/><circle cx="588.10" cy="290.90" r="1.8" fill="#0e0e0e"/><circle cx="594.15" cy="290.90" r="1.8" fill="#0e0e0e"/><circle cx="600.20" cy="290.90" r="1.8" fill="#2a2a2a"/><circle cx="551.80" cy="296.95" r="1.8" fill="#2a2a2a"/><circle cx="557.85" cy="296.95" r="1.8" fill="#0e0e0e"/><circle cx="563.90" cy="296.95" r="1.8" fill="#0e0e0e"/><circle cx="569.95" cy="296.95" r="1.8" fill="#0e0e0e"/><circle cx="576.00" cy="296.95" r="1.8" fill="#0e0e0e"/><circle cx="582.05" cy="296.95" r="1.8" fill="#0e0e0e"/><circle cx="588.10" cy="296.95" r="1.8" fill="#0e0e0e"/><circle cx="594.15" cy="296.95" r="1.8" fill="#0e0e0e"/><circle cx="600.20" cy="296.95" r="1.8" fill="#2a2a2a"/><circle cx="551.80" cy="303.00" r="1.8" fill="#2a2a2a"/><circle cx="557.85" cy="303.00" r="1.8" fill="#0e0e0e"/><circle cx="563.90" cy="303.00" r="1.8" fill="#0e0e0e"/><circle cx="569.95" cy="303.00" r="1.8" fill="#0e0e0e"/><circle cx="576.00" cy="303.00" r="1.8" fill="#0e0e0e"/><circle cx="582.05" cy="303.00" r="1.8" fill="#0e0e0e"/><circle cx="588.10" cy="303.00" r="1.8" fill="#0e0e0e"/><circle cx="594.15" cy="303.00" r="1.8" fill="#0e0e0e"/><circle cx="600.20" cy="303.00" r="1.8" fill="#2a2a2a"/><circle cx="551.80" cy="309.05" r="1.8" fill="#2a2a2a"/><circle cx="557.85" cy="309.05" r="1.8" fill="#0e0e0e"/><circle cx="563.90" cy="309.05" r="1.8" fill="#0e0e0e"/><circle cx="569.95" cy="309.05" r="1.8" fill="#0e0e0e"/><circle cx="576.00" cy="309.05" r="1.8" fill="#0e0e0e"/><circle cx="582.05" cy="309.05" r="1.8" fill="#0e0e0e"/><circle cx="588.10" cy="309.05" r="1.8" fill="#0e0e0e"/><circle cx="594.15" cy="309.05" r="1.8" fill="#0e0e0e"/><circle cx="600.20" cy="309.05" r="1.8" fill="#2a2a2a"/><circle cx="551.80" cy="315.10" r="1.8" fill="#686868"/><circle cx="557.85" cy="315.10" r="1.8" fill="#686868"/><circle cx="563.90" cy="315.10" r="1.8" fill="#686868"/><circle cx="569.95" cy="315.10" r="1.8" fill="#686868"/><circle cx="576.00" cy="315.10" r="1.8" fill="#686868"/><circle cx="582.05" cy="315.10" r="1.8" fill="#686868"/><circle cx="588.10" cy="315.10" r="1.8" fill="#686868"/><circle cx="594.15" cy="315.10" r="1.8" fill="#686868"/><circle cx="600.20" cy="315.10" r="1.8" fill="#686868"/><circle cx="531.9" cy="291.3" r="8.2" fill="#fbfbfb"/><circle cx="531.9" cy="291.3" r="5.4" fill="url(#sscrew)"/><circle cx="531.6" cy="291.1" r="4.3" fill="url(#cres)"/><circle cx="532.8" cy="292.0" r="4.0" fill="#f2f2f2"/><path d="M532.2,289.7 L532.2,293.9 M530.2,291.8 L534.4,291.8" stroke="#c4c4c4" stroke-width="0.9"/><circle cx="534.3" cy="291.8" r="0.5" fill="#777"/><circle cx="532.2" cy="293.8" r="0.5" fill="#888"/><g stroke="#1e1e1e" stroke-width="0.95" fill="none"><line x1="531.6" y1="306.1" x2="531.6" y2="312.4"/><line x1="527.8" y1="312.4" x2="535.5" y2="312.4"/><line x1="528.9" y1="314.5" x2="534.4" y2="314.5"/><line x1="530.5" y1="316.4" x2="532.8" y2="316.4"/></g><circle cx="148.7" cy="294.4" r="1.9" fill="#3a3a3a"/><text x="0" y="0" font-size="8.1" font-weight="bold" fill="#141414" transform="translate(138.8,314.9) scale(0.70,1)">RESET</text><rect x="161.9" y="279.5" width="21.1" height="24" rx="1.5" fill="#2c2c2c"/><rect x="162.9" y="280.5" width="19.1" height="22" rx="0.9" fill="#808080"/><circle cx="172.2" cy="289.2" r="6.4" fill="#1c1c1c"/><circle cx="172.2" cy="289.2" r="1.3" fill="none" stroke="#555" stroke-width="0.6"/><text x="0" y="0" font-size="8.1" fill="#141414" stroke="#141414" stroke-width="0.25" transform="translate(159.9,277.3) scale(0.94,1)">DC12V</text><g stroke="#1a1a1a" stroke-width="0.75" fill="none"><circle cx="164.05" cy="312.0" r="2.8"/><line x1="162.31" y1="312.0" x2="165.79" y2="312.0"/><line x1="166.85" y1="312.0" x2="170.64" y2="312.0"/><path d="M172.84,314.62 A2.66,2.66 0 0 1 172.84,309.38"/><line x1="173.3" y1="312.0" x2="178.1" y2="312.0"/><circle cx="180.9" cy="312.0" r="2.8"/><line x1="179.16" y1="312.0" x2="182.64" y2="312.0"/><line x1="180.9" y1="310.26" x2="180.9" y2="313.74"/></g><circle cx="173.3" cy="312.0" r="1.12" fill="#1a1a1a"/><rect x="186.2" y="274.75" width="36.4" height="28.6" fill="#2e2e2e"/><rect x="187.5" y="276.05" width="33.8" height="26.0" fill="#858585"/><polygon points="192.00,284.25 196.90,284.25 196.90,281.05 200.10,281.05 200.10,277.85 208.70,277.85 208.70,281.05 211.90,281.05 211.90,284.25 216.80,284.25 216.80,299.15 192.00,299.15" fill="#000"/><rect x="189.9" y="278.15" width="5.6" height="2.2" rx="0.4" fill="#d8d800"/><rect x="213.3" y="278.15" width="5.6" height="2.2" rx="0.4" fill="#10d010"/><rect x="225.3" y="274.75" width="36.4" height="28.6" fill="#2e2e2e"/><rect x="226.6" y="276.05" width="33.8" height="26.0" fill="#858585"/><polygon points="231.10,284.25 236.00,284.25 236.00,281.05 239.20,281.05 239.20,277.85 247.80,277.85 247.80,281.05 251.00,281.05 251.00,284.25 255.90,284.25 255.90,299.15 231.10,299.15" fill="#000"/><rect x="229.0" y="278.15" width="5.6" height="2.2" rx="0.4" fill="#d8d800"/><rect x="252.4" y="278.15" width="5.6" height="2.2" rx="0.4" fill="#10d010"/><rect x="264.5" y="274.75" width="36.4" height="28.6" fill="#2e2e2e"/><rect x="265.8" y="276.05" width="33.8" height="26.0" fill="#858585"/><polygon points="270.30,284.25 275.20,284.25 275.20,281.05 278.40,281.05 278.40,277.85 287.00,277.85 287.00,281.05 290.20,281.05 290.20,284.25 295.10,284.25 295.10,299.15 270.30,299.15" fill="#000"/><rect x="268.2" y="278.15" width="5.6" height="2.2" rx="0.4" fill="#d8d800"/><rect x="291.6" y="278.15" width="5.6" height="2.2" rx="0.4" fill="#10d010"/><g transform="translate(203.5,312.5) scale(1.0)"><g stroke="#1a1a1a" fill="none" stroke-width="0.85"><circle cx="0" cy="0" r="3.35"/><path d="M2.5,-2.3 L4.8,-3.8"/></g><g stroke="#1a1a1a" fill="none" stroke-width="0.55"><ellipse cx="0.2" cy="0.1" rx="1.3" ry="2.9"/><path d="M-2.9,0.6 Q0,2.2 2.9,0.6"/></g><circle cx="5.0" cy="-4.0" r="1" fill="#1a1a1a"/></g><g fill="#1a1a1a" transform="translate(243.1,311.7) scale(1.0)"><rect x="-1.4" y="-3.5" width="2.8" height="2.1" rx="0.5"/><rect x="-0.35" y="-1.6" width="0.7" height="1.4"/><rect x="-4.3" y="-0.4" width="8.3" height="1.05"/><rect x="-3.3" y="0.5" width="0.7" height="1.2"/><rect x="2.2" y="0.5" width="0.7" height="1.2"/><rect x="-4.2" y="1.3" width="2.7" height="3.3" rx="0.5"/><rect x="1.2" y="1.3" width="2.7" height="3.3" rx="0.5"/></g><polyline points="275.1,312.3 280.1,312.3 281.4,306 283.4,315.6 285.2,312.3 291.2,312.3" stroke="#1a1a1a" stroke-width="1.0" fill="none" stroke-linejoin="miter"/><rect x="304.3" y="271.05" width="100.4" height="32.5" fill="#3a3a3a"/><rect x="305.2" y="271.95" width="98.6" height="30.7" fill="#76e83c"/><polygon points="308.10,280.95 311.00,280.95 311.00,277.85 314.25,277.85 314.25,275.05 322.05,275.05 322.05,277.85 325.30,277.85 325.30,280.95 328.20,280.95 328.20,302.65 308.10,302.65" fill="url(#gjack)"/><text x="0" y="0" font-size="8.1" fill="#121212" stroke="#121212" stroke-width="0.25" letter-spacing="0.35" transform="translate(312.85,314.7) scale(0.58,1)">FXS</text><text x="0" y="0" font-size="6.3" fill="#121212" transform="translate(323.65,311.2) scale(0.92,1)">1</text><polygon points="332.20,280.95 335.10,280.95 335.10,277.85 338.35,277.85 338.35,275.05 346.15,275.05 346.15,277.85 349.40,277.85 349.40,280.95 352.30,280.95 352.30,302.65 332.20,302.65" fill="url(#gjack)"/><text x="0" y="0" font-size="8.1" fill="#121212" stroke="#121212" stroke-width="0.25" letter-spacing="0.35" transform="translate(336.95,314.7) scale(0.58,1)">FXS</text><text x="0" y="0" font-size="6.3" fill="#121212" transform="translate(347.75,311.2) scale(0.92,1)">2</text><polygon points="356.30,280.95 359.20,280.95 359.20,277.85 362.45,277.85 362.45,275.05 370.25,275.05 370.25,277.85 373.50,277.85 373.50,280.95 376.40,280.95 376.40,302.65 356.30,302.65" fill="url(#gjack)"/><text x="0" y="0" font-size="8.1" fill="#121212" stroke="#121212" stroke-width="0.25" letter-spacing="0.35" transform="translate(361.05,314.7) scale(0.58,1)">FXS</text><text x="0" y="0" font-size="6.3" fill="#121212" transform="translate(371.85,311.2) scale(0.92,1)">3</text><polygon points="380.40,280.95 383.30,280.95 383.30,277.85 386.55,277.85 386.55,275.05 394.35,275.05 394.35,277.85 397.60,277.85 397.60,280.95 400.50,280.95 400.50,302.65 380.40,302.65" fill="url(#gjack)"/><text x="0" y="0" font-size="8.1" fill="#121212" stroke="#121212" stroke-width="0.25" letter-spacing="0.35" transform="translate(385.15,314.7) scale(0.58,1)">FXS</text><text x="0" y="0" font-size="6.3" fill="#121212" transform="translate(395.95,311.2) scale(0.92,1)">4</text><rect x="414.2" y="271.05" width="100.5" height="32.5" fill="#3a3a3a"/><rect x="415.1" y="271.95" width="98.7" height="30.7" fill="#40c0e6"/><polygon points="418.00,280.95 420.90,280.95 420.90,277.85 424.16,277.85 424.16,275.05 431.96,275.05 431.96,277.85 435.23,277.85 435.23,280.95 438.12,280.95 438.12,302.65 418.00,302.65" fill="url(#bjack)"/><text x="0" y="0" font-size="8.1" fill="#121212" stroke="#121212" stroke-width="0.25" letter-spacing="0.35" transform="translate(422.76,314.7) scale(0.58,1)">FXO</text><text x="0" y="0" font-size="6.3" fill="#121212" transform="translate(433.56,311.2) scale(0.92,1)">1</text><polygon points="442.12,280.95 445.02,280.95 445.02,277.85 448.29,277.85 448.29,275.05 456.09,275.05 456.09,277.85 459.35,277.85 459.35,280.95 462.25,280.95 462.25,302.65 442.12,302.65" fill="url(#bjack)"/><text x="0" y="0" font-size="8.1" fill="#121212" stroke="#121212" stroke-width="0.25" letter-spacing="0.35" transform="translate(446.89,314.7) scale(0.58,1)">FXO</text><text x="0" y="0" font-size="6.3" fill="#121212" transform="translate(457.69,311.2) scale(0.92,1)">2</text><polygon points="466.25,280.95 469.15,280.95 469.15,277.85 472.41,277.85 472.41,275.05 480.21,275.05 480.21,277.85 483.48,277.85 483.48,280.95 486.38,280.95 486.38,302.65 466.25,302.65" fill="url(#bjack)"/><text x="0" y="0" font-size="8.1" fill="#121212" stroke="#121212" stroke-width="0.25" letter-spacing="0.35" transform="translate(471.01,314.7) scale(0.58,1)">FXO</text><text x="0" y="0" font-size="6.3" fill="#121212" transform="translate(481.81,311.2) scale(0.92,1)">3</text><polygon points="490.38,280.95 493.27,280.95 493.27,277.85 496.54,277.85 496.54,275.05 504.34,275.05 504.34,277.85 507.60,277.85 507.60,280.95 510.50,280.95 510.50,302.65 490.38,302.65" fill="url(#bjack)"/><text x="0" y="0" font-size="8.1" fill="#121212" stroke="#121212" stroke-width="0.25" letter-spacing="0.35" transform="translate(495.14,314.7) scale(0.58,1)">FXO</text><text x="0" y="0" font-size="6.3" fill="#121212" transform="translate(505.94,311.2) scale(0.92,1)">4</text><path d="M5.5,385.3 L48.5,385.3 L48.5,479.6 L5.5,479.6 Q0.7,479.6 0.7,474.8 L0.7,390.1 Q0.7,385.3 5.5,385.3 Z" fill="url(#earL)" stroke="#dedede" stroke-width="0.6"/><path d="M975.5,385.3 L1018.5,385.3 Q1023.3,385.3 1023.3,390.1 L1023.3,474.8 Q1023.3,479.6 1018.5,479.6 L975.5,479.6 Z" fill="url(#earR)" stroke="#e4e4e4" stroke-width="0.6"/><rect x="13" y="392.9" width="23.8" height="11.8" rx="4.8" fill="#000" stroke="#fafafa" stroke-width="0.9"/><rect x="13" y="460.3" width="23.8" height="11.8" rx="4.8" fill="#000" stroke="#fafafa" stroke-width="0.9"/><rect x="986.8" y="392.9" width="23.8" height="11.8" rx="4.8" fill="#000" stroke="#fafafa" stroke-width="0.9"/><rect x="986.8" y="460.3" width="23.8" height="11.8" rx="4.8" fill="#000" stroke="#fafafa" stroke-width="0.9"/><path d="M114.9,478.5 L143.2,478.5 L139.3,484 L118.3,484 Z" fill="#1c1c1c" stroke="#e0e0e0" stroke-width="0.6"/><path d="M881.3,478.5 L909.1,478.5 L905.5,484 L885,484 Z" fill="#1c1c1c" stroke="#e0e0e0" stroke-width="0.6"/><rect x="47.3" y="385.2" width="929.7" height="94.4" fill="#3c3c3c"/><rect x="47.3" y="385.2" width="1.9" height="91.2" fill="#6e6e6e"/><rect x="974.8" y="385.2" width="2.2" height="91.2" fill="#929292"/><rect x="47.3" y="385.2" width="929.7" height="2.7" fill="url(#rtop)"/><rect x="49.2" y="387.9" width="925.6" height="2.4" fill="#1c1c1c"/><rect x="49.2" y="387.9" width="1.6" height="88.5" fill="#2a2a2a"/><rect x="973.6" y="387.9" width="1.2" height="88.5" fill="#222"/><rect x="50.8" y="390.3" width="922.8" height="86" fill="url(#rface)"/><rect x="50.8" y="390.3" width="922.8" height="1" fill="#888" opacity="0.5"/><rect x="47.3" y="476.3" width="929.7" height="2.3" fill="#3a3a3a"/><rect x="47.3" y="478.6" width="929.7" height="1.1" fill="#d8d8d8"/><rect x="45.9" y="396" width="1.4" height="12" fill="#3a3a3a"/><rect x="976.2" y="396" width="1.1" height="12" fill="#6a6a6a"/><rect x="976.2" y="457" width="1.1" height="12" fill="#6a6a6a"/><circle cx="94.6" cy="443" r="8.4" fill="url(#rscrew)" stroke="#5a5a5a" stroke-width="0.5"/><circle cx="94.6" cy="443.2" r="4.9" fill="#c4c4c4" stroke="#8e8e8e" stroke-width="0.6"/><circle cx="95.4" cy="444" r="2.2" fill="#e8e8e8" opacity="0.8"/><g stroke="#303030" stroke-width="0.9"><line x1="92.4" y1="443.5" x2="96.8" y2="443.5"/><line x1="94.5" y1="441.2" x2="94.5" y2="445.8"/></g><g stroke="#e4e4e4" stroke-width="1.05" fill="none"><line x1="94.5" y1="459" x2="94.5" y2="465.5"/><line x1="90" y1="465.5" x2="99" y2="465.5"/><line x1="91.7" y1="467.6" x2="97.5" y2="467.6"/><line x1="93.1" y1="469.7" x2="96.1" y2="469.7"/></g><circle cx="138.6" cy="445.7" r="1.7" fill="#111"/><text x="0" y="0" font-size="8.9" font-weight="bold" fill="#ececec" transform="translate(128.6,468.1) scale(0.68,1)">RESET</text><text x="0" y="0" font-size="8" font-weight="bold" fill="#ececec" transform="translate(169.3,429.3) scale(1.04,1)">DC12V</text><rect x="158" y="431.1" width="20.2" height="24.4" rx="1.5" fill="#2e2e2e"/><rect x="158.9" y="432" width="18.4" height="22.6" rx="1" fill="#4a4a4a"/><circle cx="168.1" cy="441.3" r="6.5" fill="#050505"/><circle cx="168.1" cy="441.3" r="0.7" fill="#666"/><rect x="185.6" y="431.1" width="20.2" height="24.4" rx="1.5" fill="#2e2e2e"/><rect x="186.5" y="432" width="18.4" height="22.6" rx="1" fill="#4a4a4a"/><circle cx="195.7" cy="441.3" r="6.5" fill="#050505"/><circle cx="195.7" cy="441.3" r="0.7" fill="#666"/><g stroke="#e4e4e4" stroke-width="0.95" fill="none"><circle cx="173.5" cy="465.7" r="3.3"/><line x1="171.45" y1="465.7" x2="175.55" y2="465.7"/><line x1="176.8" y1="465.7" x2="180.29" y2="465.7"/><path d="M182.20,467.97 A2.31,2.31 0 0 1 182.20,463.43"/><line x1="182.6" y1="465.7" x2="186.9" y2="465.7"/><circle cx="190.2" cy="465.7" r="3.3"/><line x1="188.15" y1="465.7" x2="192.25" y2="465.7"/><line x1="190.2" y1="463.65" x2="190.2" y2="467.75"/></g><circle cx="182.6" cy="465.7" r="1.32" fill="#e4e4e4"/><g stroke="#e2e2e2" stroke-width="1" fill="none"><polyline points="163.8,460.4 161.4,460.4 161.4,466.5 168,466.5"/><polyline points="199.6,460.4 202.3,460.4 202.3,466.5 196,466.5"/></g><text x="166.6" y="462.6" font-size="6" font-weight="bold" fill="#e6e6e6">1</text><text x="193.8" y="463.1" font-size="6.2" font-weight="bold" fill="#e6e6e6">2</text><rect x="213.1" y="427.1" width="35.0" height="28.3" fill="#2c2c2c"/><rect x="214.6" y="428.6" width="32.0" height="25.3" fill="#5a5a5a"/><polygon points="217.60,436.00 222.50,436.00 222.50,433.00 225.70,433.00 225.70,429.50 235.50,429.50 235.50,433.00 238.70,433.00 238.70,436.00 243.60,436.00 243.60,451.80 217.60,451.80" fill="#000"/><rect x="216.8" y="429.8" width="5.6" height="2.2" rx="0.4" fill="#e6c400"/><rect x="238.8" y="429.8" width="5.6" height="2.2" rx="0.4" fill="#22dd22"/><rect x="255.8" y="427.1" width="35.1" height="28.3" fill="#2c2c2c"/><rect x="257.3" y="428.6" width="32.1" height="25.3" fill="#5a5a5a"/><polygon points="260.30,436.00 265.25,436.00 265.25,433.00 268.45,433.00 268.45,429.50 278.25,429.50 278.25,433.00 281.45,433.00 281.45,436.00 286.40,436.00 286.40,451.80 260.30,451.80" fill="#000"/><rect x="259.5" y="429.8" width="5.6" height="2.2" rx="0.4" fill="#e6c400"/><rect x="281.6" y="429.8" width="5.6" height="2.2" rx="0.4" fill="#22dd22"/><rect x="298.3" y="427.1" width="35.5" height="28.3" fill="#2c2c2c"/><rect x="299.8" y="428.6" width="32.5" height="25.3" fill="#5a5a5a"/><polygon points="302.80,436.00 307.95,436.00 307.95,433.00 311.15,433.00 311.15,429.50 320.95,429.50 320.95,433.00 324.15,433.00 324.15,436.00 329.30,436.00 329.30,451.80 302.80,451.80" fill="#000"/><rect x="302.0" y="429.8" width="5.6" height="2.2" rx="0.4" fill="#e6c400"/><rect x="324.5" y="429.8" width="5.6" height="2.2" rx="0.4" fill="#22dd22"/><g transform="translate(229.7,465.9) scale(1.12)"><g stroke="#e8e8e8" fill="none" stroke-width="0.85"><circle cx="0" cy="0" r="3.35"/><path d="M2.5,-2.3 L4.8,-3.8"/></g><g stroke="#e8e8e8" fill="none" stroke-width="0.55"><ellipse cx="0.2" cy="0.1" rx="1.3" ry="2.9"/><path d="M-2.9,0.6 Q0,2.2 2.9,0.6"/></g><circle cx="5.0" cy="-4.0" r="1" fill="#e8e8e8"/></g><g fill="#e8e8e8" transform="translate(273.4,464.6) scale(1.05)"><rect x="-1.4" y="-3.5" width="2.8" height="2.1" rx="0.5"/><rect x="-0.35" y="-1.6" width="0.7" height="1.4"/><rect x="-4.3" y="-0.4" width="8.3" height="1.05"/><rect x="-3.3" y="0.5" width="0.7" height="1.2"/><rect x="2.2" y="0.5" width="0.7" height="1.2"/><rect x="-4.2" y="1.3" width="2.7" height="3.3" rx="0.5"/><rect x="1.2" y="1.3" width="2.7" height="3.3" rx="0.5"/></g><polyline points="308.4,465.5 313.7,465.5 315.0,459.2 317.0,468.8 318.8,465.5 324.5,465.5" stroke="#e8e8e8" stroke-width="1.1" fill="none" stroke-linejoin="miter"/><rect x="355" y="401.9" width="104.8" height="53.5" fill="#1e1e1e"/><rect x="355.6" y="402.5" width="103.6" height="52.3" fill="#71f02a"/><polygon points="358.90,407.90 363.30,407.90 363.30,405.00 364.90,405.00 364.90,402.50 374.38,402.50 374.38,405.00 375.98,405.00 375.98,407.90 380.38,407.90 380.38,422.80 358.90,422.80" fill="url(#rgj)"/><polygon points="384.07,407.90 388.47,407.90 388.47,405.00 390.07,405.00 390.07,402.50 399.55,402.50 399.55,405.00 401.15,405.00 401.15,407.90 405.55,407.90 405.55,422.80 384.07,422.80" fill="url(#rgj)"/><polygon points="409.25,407.90 413.65,407.90 413.65,405.00 415.25,405.00 415.25,402.50 424.73,402.50 424.73,405.00 426.33,405.00 426.33,407.90 430.73,407.90 430.73,422.80 409.25,422.80" fill="url(#rgj)"/><polygon points="434.42,407.90 438.82,407.90 438.82,405.00 440.42,405.00 440.42,402.50 449.90,402.50 449.90,405.00 451.50,405.00 451.50,407.90 455.90,407.90 455.90,422.80 434.42,422.80" fill="url(#rgj)"/><polygon points="358.90,434.80 380.38,434.80 380.38,449.40 375.98,449.40 375.98,452.30 374.38,452.30 374.38,454.80 364.90,454.80 364.90,452.30 363.30,452.30 363.30,449.40 358.90,449.40" fill="url(#rgj)"/><polygon points="384.07,434.80 405.55,434.80 405.55,449.40 401.15,449.40 401.15,452.30 399.55,452.30 399.55,454.80 390.07,454.80 390.07,452.30 388.47,452.30 388.47,449.40 384.07,449.40" fill="url(#rgj)"/><polygon points="409.25,434.80 430.73,434.80 430.73,449.40 426.33,449.40 426.33,452.30 424.73,452.30 424.73,454.80 415.25,454.80 415.25,452.30 413.65,452.30 413.65,449.40 409.25,449.40" fill="url(#rgj)"/><polygon points="434.42,434.80 455.90,434.80 455.90,449.40 451.50,449.40 451.50,452.30 449.90,452.30 449.90,454.80 440.42,454.80 440.42,452.30 438.82,452.30 438.82,449.40 434.42,449.40" fill="url(#rgj)"/><rect x="358.6" y="425.3" width="97.6" height="6.4" fill="#71f02a" stroke="#000" stroke-opacity="0.12" stroke-width="0.5"/><g stroke="#e0e0e0" stroke-width="0.9" fill="none"><polyline points="362.7,459.1 359.1,459.1 359.1,470.4 362.7,470.4"/><polyline points="451.0,459.1 454.6,459.1 454.6,470.4 451.0,470.4"/></g><g stroke="#c8c8c8" stroke-width="1" fill="none"><line x1="359.1" y1="465" x2="398.6" y2="465"/><line x1="416.3" y1="465" x2="454.6" y2="465"/></g><text x="0" y="0" font-size="8.9" fill="#e0e0e0" stroke="#e0e0e0" stroke-width="0.3" transform="translate(402.2,468.3) scale(0.56,1)">FXS</text><text x="0" y="0" font-size="6.5" font-weight="bold" fill="#eeeeee" transform="translate(367.4,463.3) scale(0.88,1)">5</text><text x="0" y="0" font-size="6.5" font-weight="bold" fill="#eeeeee" transform="translate(392.1,463.3) scale(0.88,1)">6</text><text x="0" y="0" font-size="6.5" font-weight="bold" fill="#eeeeee" transform="translate(417.8,463.3) scale(0.88,1)">7</text><text x="0" y="0" font-size="6.5" font-weight="bold" fill="#eeeeee" transform="translate(443.4,463.3) scale(0.88,1)">8</text><text x="0" y="0" font-size="6.5" font-weight="bold" fill="#eeeeee" transform="translate(367.4,472) scale(0.88,1)">1</text><text x="0" y="0" font-size="6.5" font-weight="bold" fill="#eeeeee" transform="translate(392.1,472) scale(0.88,1)">2</text><text x="0" y="0" font-size="6.5" font-weight="bold" fill="#eeeeee" transform="translate(417.8,472) scale(0.88,1)">3</text><text x="0" y="0" font-size="6.5" font-weight="bold" fill="#eeeeee" transform="translate(443.4,472) scale(0.88,1)">4</text><rect x="481.1" y="401.9" width="104.8" height="53.5" fill="#1e1e1e"/><rect x="481.7" y="402.5" width="103.6" height="52.3" fill="#2ad4f4"/><polygon points="485.00,407.90 489.40,407.90 489.40,405.00 491.00,405.00 491.00,402.50 500.48,402.50 500.48,405.00 502.08,405.00 502.08,407.90 506.48,407.90 506.48,422.80 485.00,422.80" fill="url(#rbj)"/><polygon points="510.18,407.90 514.58,407.90 514.58,405.00 516.17,405.00 516.17,402.50 525.65,402.50 525.65,405.00 527.25,405.00 527.25,407.90 531.65,407.90 531.65,422.80 510.18,422.80" fill="url(#rbj)"/><polygon points="535.35,407.90 539.75,407.90 539.75,405.00 541.35,405.00 541.35,402.50 550.83,402.50 550.83,405.00 552.43,405.00 552.43,407.90 556.83,407.90 556.83,422.80 535.35,422.80" fill="url(#rbj)"/><polygon points="560.52,407.90 564.92,407.90 564.92,405.00 566.52,405.00 566.52,402.50 576.00,402.50 576.00,405.00 577.60,405.00 577.60,407.90 582.00,407.90 582.00,422.80 560.52,422.80" fill="url(#rbj)"/><polygon points="485.00,434.80 506.48,434.80 506.48,449.40 502.08,449.40 502.08,452.30 500.48,452.30 500.48,454.80 491.00,454.80 491.00,452.30 489.40,452.30 489.40,449.40 485.00,449.40" fill="url(#rbj)"/><polygon points="510.18,434.80 531.65,434.80 531.65,449.40 527.25,449.40 527.25,452.30 525.65,452.30 525.65,454.80 516.17,454.80 516.17,452.30 514.58,452.30 514.58,449.40 510.18,449.40" fill="url(#rbj)"/><polygon points="535.35,434.80 556.83,434.80 556.83,449.40 552.43,449.40 552.43,452.30 550.83,452.30 550.83,454.80 541.35,454.80 541.35,452.30 539.75,452.30 539.75,449.40 535.35,449.40" fill="url(#rbj)"/><polygon points="560.52,434.80 582.00,434.80 582.00,449.40 577.60,449.40 577.60,452.30 576.00,452.30 576.00,454.80 566.52,454.80 566.52,452.30 564.92,452.30 564.92,449.40 560.52,449.40" fill="url(#rbj)"/><rect x="484.7" y="425.3" width="97.6" height="6.4" fill="#2ad4f4" stroke="#000" stroke-opacity="0.12" stroke-width="0.5"/><g stroke="#e0e0e0" stroke-width="0.9" fill="none"><polyline points="488.8,459.1 485.2,459.1 485.2,470.4 488.8,470.4"/><polyline points="577.1,459.1 580.7,459.1 580.7,470.4 577.1,470.4"/></g><g stroke="#c8c8c8" stroke-width="1" fill="none"><line x1="485.2" y1="465" x2="524.7" y2="465"/><line x1="542.4" y1="465" x2="580.7" y2="465"/></g><text x="0" y="0" font-size="8.9" fill="#e0e0e0" stroke="#e0e0e0" stroke-width="0.3" transform="translate(528.3,468.3) scale(0.56,1)">FXO</text><text x="0" y="0" font-size="6.5" font-weight="bold" fill="#eeeeee" transform="translate(493.5,463.3) scale(0.88,1)">5</text><text x="0" y="0" font-size="6.5" font-weight="bold" fill="#eeeeee" transform="translate(518.2,463.3) scale(0.88,1)">6</text><text x="0" y="0" font-size="6.5" font-weight="bold" fill="#eeeeee" transform="translate(543.9,463.3) scale(0.88,1)">7</text><text x="0" y="0" font-size="6.5" font-weight="bold" fill="#eeeeee" transform="translate(569.5,463.3) scale(0.88,1)">8</text><text x="0" y="0" font-size="6.5" font-weight="bold" fill="#eeeeee" transform="translate(493.5,472) scale(0.88,1)">1</text><text x="0" y="0" font-size="6.5" font-weight="bold" fill="#eeeeee" transform="translate(518.2,472) scale(0.88,1)">2</text><text x="0" y="0" font-size="6.5" font-weight="bold" fill="#eeeeee" transform="translate(543.9,472) scale(0.88,1)">3</text><text x="0" y="0" font-size="6.5" font-weight="bold" fill="#eeeeee" transform="translate(569.5,472) scale(0.88,1)">4</text>
</svg></body></html>
